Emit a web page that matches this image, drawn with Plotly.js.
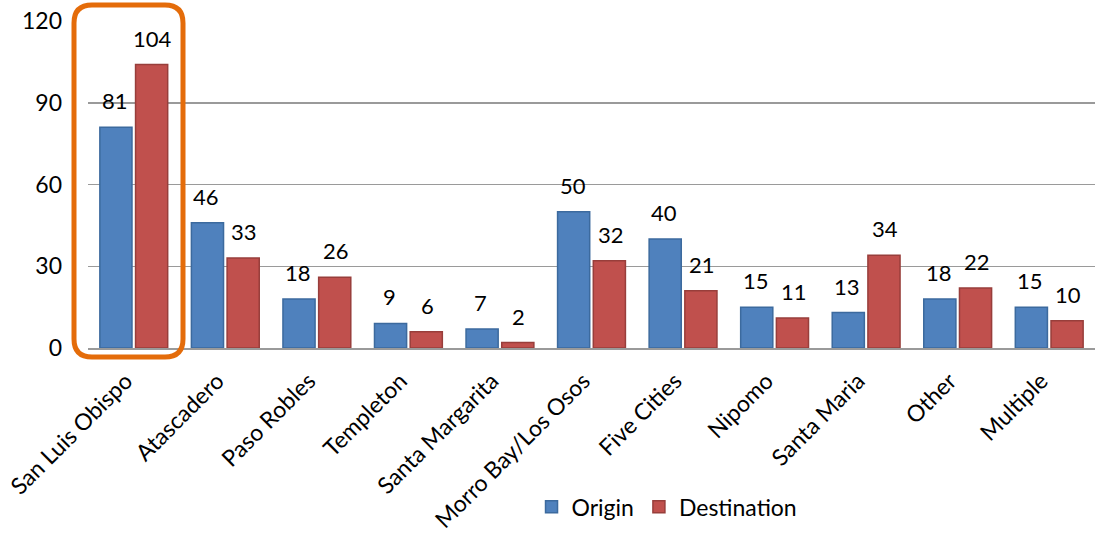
<!DOCTYPE html>
<html>
<head>
<meta charset="utf-8">
<script src="https://cdn.plot.ly/plotly-3.0.1.min.js"></script>
<style>html,body{margin:0;padding:0;background:#fff;}#chart{width:1097px;height:537px;}</style>
</head>
<body>
<div id="chart"></div>
<script>
var categories = ["San Luis Obispo","Atascadero","Paso Robles","Templeton","Santa Margarita","Morro Bay/Los Osos","Five Cities","Nipomo","Santa Maria","Other","Multiple"];
var origin = [81,46,18,9,7,50,40,15,13,18,15];
var destination = [104,33,26,6,2,32,21,11,34,22,10];
var yTicks = [0,30,60,90,120];

var FONT = "Lato, 'Open Sans', sans-serif";

var traces = [
  {type:"bar", name:"Origin", x:categories, y:origin,
   marker:{color:"#4F81BD", line:{color:"#3C6A9E", width:1.5}}, hoverinfo:"y"},
  {type:"bar", name:"Destination", x:categories, y:destination,
   marker:{color:"#C0504D", line:{color:"#983E3B", width:1.5}}, hoverinfo:"y"}
];

var annotations = [];
categories.forEach(function(c,i){
  annotations.push({x:c, y:origin[i], xref:"x", yref:"y", text:String(origin[i]), showarrow:false,
    xanchor:"center", yanchor:"bottom", xshift:-19, yshift:11, font:{family:FONT, size:22, color:"#000"}});
  annotations.push({x:c, y:destination[i], xref:"x", yref:"y", text:String(destination[i]), showarrow:false,
    xanchor:"center", yanchor:"bottom", xshift:19, yshift:11, font:{family:FONT, size:22, color:"#000"}});
});

// rounded highlight box around first category (paper coords)
function roundRect(x0,y0,x1,y1,rx,ry){
  return "M "+(x0+rx)+" "+y0+" L "+(x1-rx)+" "+y0+" Q "+x1+" "+y0+" "+x1+" "+(y0+ry)+
         " L "+x1+" "+(y1-ry)+" Q "+x1+" "+y1+" "+(x1-rx)+" "+y1+
         " L "+(x0+rx)+" "+y1+" Q "+x0+" "+y1+" "+x0+" "+(y1-ry)+
         " L "+x0+" "+(y0+ry)+" Q "+x0+" "+y0+" "+(x0+rx)+" "+y0+" Z";
}
var pw = 1007, ph = 327;
var bx0 = -14/pw, bx1 = 95/pw, by0 = -9/ph, by1 = 343/ph;
var shapes = [{type:"path", xref:"paper", yref:"paper",
  path: roundRect(bx0, by0, bx1, by1, 18/pw, 18/ph),
  line:{color:"#E46C0A", width:5}, fillcolor:"rgba(0,0,0,0)", layer:"above"}];

var layout = {
  width:1097, height:537,
  margin:{l:88, r:2, t:21, b:189},
  paper_bgcolor:"#fff", plot_bgcolor:"#fff",
  font:{family:FONT, size:22, color:"#000"},
  barmode:"group", bargap:0.22, bargroupgap:0.1,
  showlegend:true,
  legend:{orientation:"h", x:0.575, xanchor:"center", y:-0.42, yanchor:"top",
    font:{family:FONT, size:23, color:"#000"}, itemwidth:30, tracegroupgap:0},
  xaxis:{type:"category", tickangle:-45, showgrid:false, showline:true, linecolor:"#9A9A9A", linewidth:1.5,
    ticks:"", tickfont:{family:FONT, size:23, color:"#000"}, ticklabelstandoff:9, ticklabelshift:-8, automargin:false},
  yaxis:{range:[0,120], tickvals:yTicks, ticktext:yTicks.map(String), showgrid:true, gridcolor:"#9A9A9A", gridwidth:1.5,
    zeroline:false, showline:false, ticks:"", tickfont:{family:FONT, size:23, color:"#000"}, ticklabelstandoff:25, automargin:false},
  annotations:annotations,
  shapes:shapes
};

Plotly.newPlot("chart", traces, layout, {displayModeBar:false, staticPlot:true});
</script>
</body>
</html>
